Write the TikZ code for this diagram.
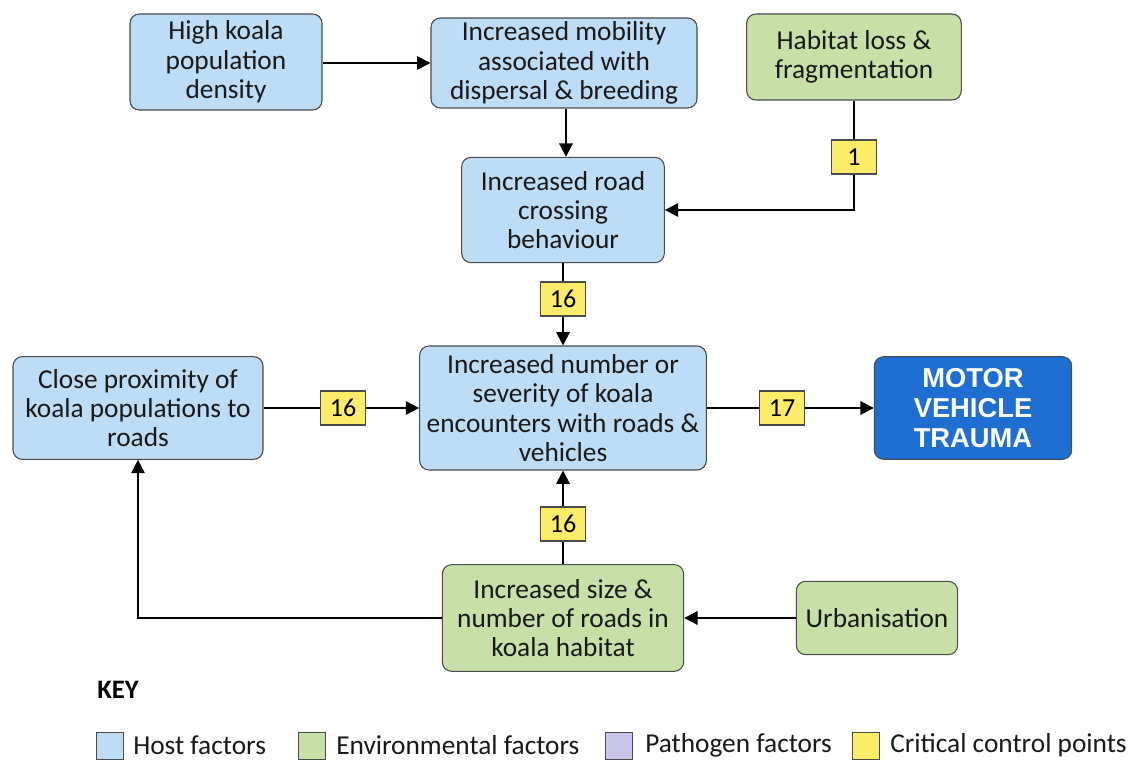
\documentclass[tikz,border=0pt]{standalone}
\usepackage{fontspec}
\setmainfont{Carlito}
\newfontfamily\arialfont{Liberation Sans}
\usepackage{tikz}
\usetikzlibrary{arrows.meta,positioning}

\definecolor{hostblue}{HTML}{BDDCF6}
\definecolor{envgreen}{HTML}{C6E0A8}
\definecolor{pathpurple}{HTML}{CAC5EA}
\definecolor{ccpyellow}{HTML}{FBEC6A}
\definecolor{traumablue}{HTML}{1F6FD2}
\definecolor{edgegrey}{HTML}{4A4A4A}

\tikzset{
  box/.style={draw=edgegrey, line width=0.8pt, rounded corners=7pt, inner sep=0pt, align=center,
    font=\fontsize{20.5}{22}\selectfont, text=black!90},
  host/.style={box, fill=hostblue},
  env/.style={box, fill=envgreen},
  trauma/.style={box, fill=traumablue, text=white, font=\arialfont\bfseries\fontsize{20.5}{22.5}\selectfont},
  ccp/.style={draw=edgegrey, line width=0.8pt, fill=ccpyellow, inner sep=0pt,
    minimum width=34pt, minimum height=25.5pt, font=\fontsize{19.5}{20}\selectfont},
  keysq/.style={draw=edgegrey, line width=0.8pt, minimum width=20pt, minimum height=20pt, inner sep=0pt},
  keytxt/.style={anchor=west, inner sep=0pt, font=\fontsize{20.5}{22}\selectfont, text=black!90},
  arr/.style={-{Triangle[length=10pt,width=10pt]}},
  link/.style={line width=1.5pt, black}
}

\begin{document}
\begin{tikzpicture}[x=0.75pt, y=-0.75pt]
	\useasboundingbox (0,0) rectangle (1140,762);

	% factor boxes
	\node (dens) [host, minimum width=144pt, minimum height=72pt] at (226,62) {High koala\\population\\density};
	\node (mob) [host, minimum width=199.5pt, minimum height=67.5pt] at (564,63) {Increased mobility\\associated with\\dispersal \& breeding};
	\node (habloss) [env, minimum width=161pt, minimum height=64.5pt] at (854,57) {Habitat loss \&\\fragmentation};
	\node (cross) [host, minimum width=152pt, minimum height=79pt] at (563,210) {Increased road\\crossing\\behaviour};
	\node (enc) [host, minimum width=215pt, minimum height=93pt] at (563,408) {Increased number or\\severity of koala\\encounters with roads \&\\vehicles};
	\node (prox) [host, minimum width=187.5pt, minimum height=77pt] at (138,408) {Close proximity of\\koala populations to\\roads};
	\node (mvt) [trauma, minimum width=148pt, minimum height=77pt] at (973,408) {MOTOR\\VEHICLE\\TRAUMA};
	\node (roads) [env, minimum width=181pt, minimum height=80pt] at (563,618) {Increased size \&\\number of roads in\\koala habitat};
	\node (urban) [env, minimum width=121pt, minimum height=55pt] at (877,618) {Urbanisation};

	% critical control points
	\node (c1) [ccp] at (854,157) {1};
	\node (c16a) [ccp] at (563,299) {16};
	\node (c16b) [ccp] at (343,408) {16};
	\node (c17) [ccp] at (782,408) {17};
	\node (c16c) [ccp] at (563,524) {16};

	% connectors
	\draw[link, arr] (dens.east |- 0,63) -- (mob.west |- 0,63);
	\draw[link, arr] (mob.south -| 566,0) -- (cross.north -| 566,0);
	\draw[link] (habloss) -- (c1);
	\draw[link, arr] (c1) |- (cross.east);
	\draw[link] (cross) -- (c16a);
	\draw[link, arr] (c16a) -- (enc);
	\draw[link] (prox) -- (c16b);
	\draw[link, arr] (c16b) -- (enc);
	\draw[link] (enc) -- (c17);
	\draw[link, arr] (c17) -- (mvt);
	\draw[link] (roads) -- (c16c);
	\draw[link, arr] (c16c) -- (enc);
	\draw[link, arr] (roads.west) -| (prox.south);
	\draw[link, arr] (urban) -- (roads);

	% key
	\node (keyhead) [anchor=west, inner sep=0pt, font=\bfseries\fontsize{20}{22}\selectfont] at (97,690) {KEY};
	\node (kh) [keysq, fill=hostblue] at (110,746) {};
	\node (khl) [keytxt] at (133,745) {Host factors};
	\node (ke) [keysq, fill=envgreen] at (312,746) {};
	\node (kel) [keytxt] at (336,745) {Environmental factors};
	\node (kp) [keysq, fill=pathpurple] at (619,746) {};
	\node (kpl) [keytxt] at (645,745) {Pathogen factors};
	\node (kc) [keysq, fill=ccpyellow] at (866,746) {};
	\node (kcl) [keytxt] at (890,745) {Critical control points};
\end{tikzpicture}
\end{document}
